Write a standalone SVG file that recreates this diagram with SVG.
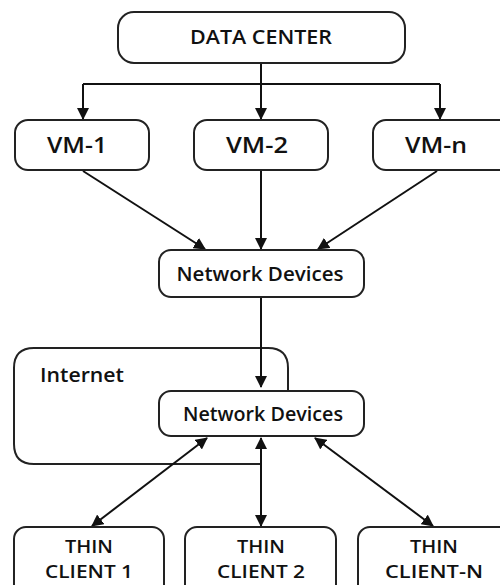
<svg xmlns="http://www.w3.org/2000/svg" width="500" height="585" viewBox="0 0 500 585">
<defs>
<style>
.box{fill:#fff;stroke:#222;stroke-width:2}
.ln{fill:none;stroke:#111;stroke-width:2}
.t{font-family:"Open Sans","Liberation Sans",sans-serif;font-weight:600;fill:#111;text-anchor:middle;font-size:19.5px}
.tc{font-size:18px}
</style>
<marker id="ah" viewBox="0 0 12 12" refX="11" refY="6" markerWidth="12" markerHeight="12" markerUnits="userSpaceOnUse" orient="auto-start-reverse">
<path d="M0,0 L12,6 L0,12 z" fill="#111"/>
</marker>
</defs>
<rect width="500" height="585" fill="#fff"/>
<g id="internet">
<path class="ln" d="M288,391 V368 Q288,348 268,348 H34 Q14,348 14,368 V444 Q14,464 34,464 H261" style="stroke:#222"/>
<text class="t" x="40" y="382" style="text-anchor:start;font-size:19px" textLength="84" lengthAdjust="spacingAndGlyphs">Internet</text>
</g>
<g id="connectors">
<path class="ln" d="M261,63 V84"/>
<path class="ln" d="M83,84 H440"/>
<path class="ln" d="M83,84 V119" marker-end="url(#ah)"/>
<path class="ln" d="M261,84 V119" marker-end="url(#ah)"/>
<path class="ln" d="M440,84 V119" marker-end="url(#ah)"/>
<path class="ln" d="M83,171 L205,249" marker-end="url(#ah)"/>
<path class="ln" d="M261,171 V249" marker-end="url(#ah)"/>
<path class="ln" d="M437,171 L318,249" marker-end="url(#ah)"/>
<path class="ln" d="M261,297 V387" marker-end="url(#ah)"/>
<path class="ln" d="M207,438 L92,526" marker-start="url(#ah)" marker-end="url(#ah)"/>
<path class="ln" d="M261,438 V526" marker-start="url(#ah)" marker-end="url(#ah)"/>
<path class="ln" d="M315,438 L433,526" marker-start="url(#ah)" marker-end="url(#ah)"/>
</g>
<g id="datacenter">
<rect class="box" x="118" y="12" width="287" height="51" rx="16"/>
<text class="t" x="261" y="44" textLength="142" lengthAdjust="spacingAndGlyphs">DATA CENTER</text>
</g>
<g id="vm1">
<rect class="box" x="15" y="120" width="134" height="50" rx="13"/>
<text class="t" x="77" y="153" style="font-size:21px" textLength="60" lengthAdjust="spacingAndGlyphs">VM-1</text>
</g>
<g id="vm2">
<rect class="box" x="194" y="120" width="134" height="50" rx="13"/>
<text class="t" x="257" y="153" style="font-size:21px" textLength="62" lengthAdjust="spacingAndGlyphs">VM-2</text>
</g>
<g id="vmn">
<rect class="box" x="373" y="120" width="140" height="50" rx="13"/>
<text class="t" x="436" y="153" style="font-size:21px" textLength="62" lengthAdjust="spacingAndGlyphs">VM-n</text>
</g>
<g id="netdev1">
<rect class="box" x="159" y="250" width="205" height="47" rx="12"/>
<text class="t" x="260" y="281" textLength="167" lengthAdjust="spacingAndGlyphs">Network Devices</text>
</g>
<g id="netdev2">
<rect class="box" x="159" y="391" width="205" height="45" rx="12"/>
<text class="t" x="263" y="421" textLength="160" lengthAdjust="spacingAndGlyphs">Network Devices</text>
</g>
<g id="thin1">
<rect class="box" x="14" y="527" width="150" height="70" rx="12"/>
<text class="t tc" x="89" y="553" textLength="48" lengthAdjust="spacingAndGlyphs">THIN</text>
<text class="t tc" x="89" y="578" textLength="88" lengthAdjust="spacingAndGlyphs">CLIENT 1</text>
</g>
<g id="thin2">
<rect class="box" x="185" y="527" width="151" height="70" rx="12"/>
<text class="t tc" x="261" y="553" textLength="48" lengthAdjust="spacingAndGlyphs">THIN</text>
<text class="t tc" x="261" y="578" textLength="88" lengthAdjust="spacingAndGlyphs">CLIENT 2</text>
</g>
<g id="thinn">
<rect class="box" x="358" y="527" width="155" height="70" rx="12"/>
<text class="t tc" x="434" y="553" textLength="48" lengthAdjust="spacingAndGlyphs">THIN</text>
<text class="t tc" x="434" y="578" textLength="98" lengthAdjust="spacingAndGlyphs">CLIENT-N</text>
</g>
</svg>
